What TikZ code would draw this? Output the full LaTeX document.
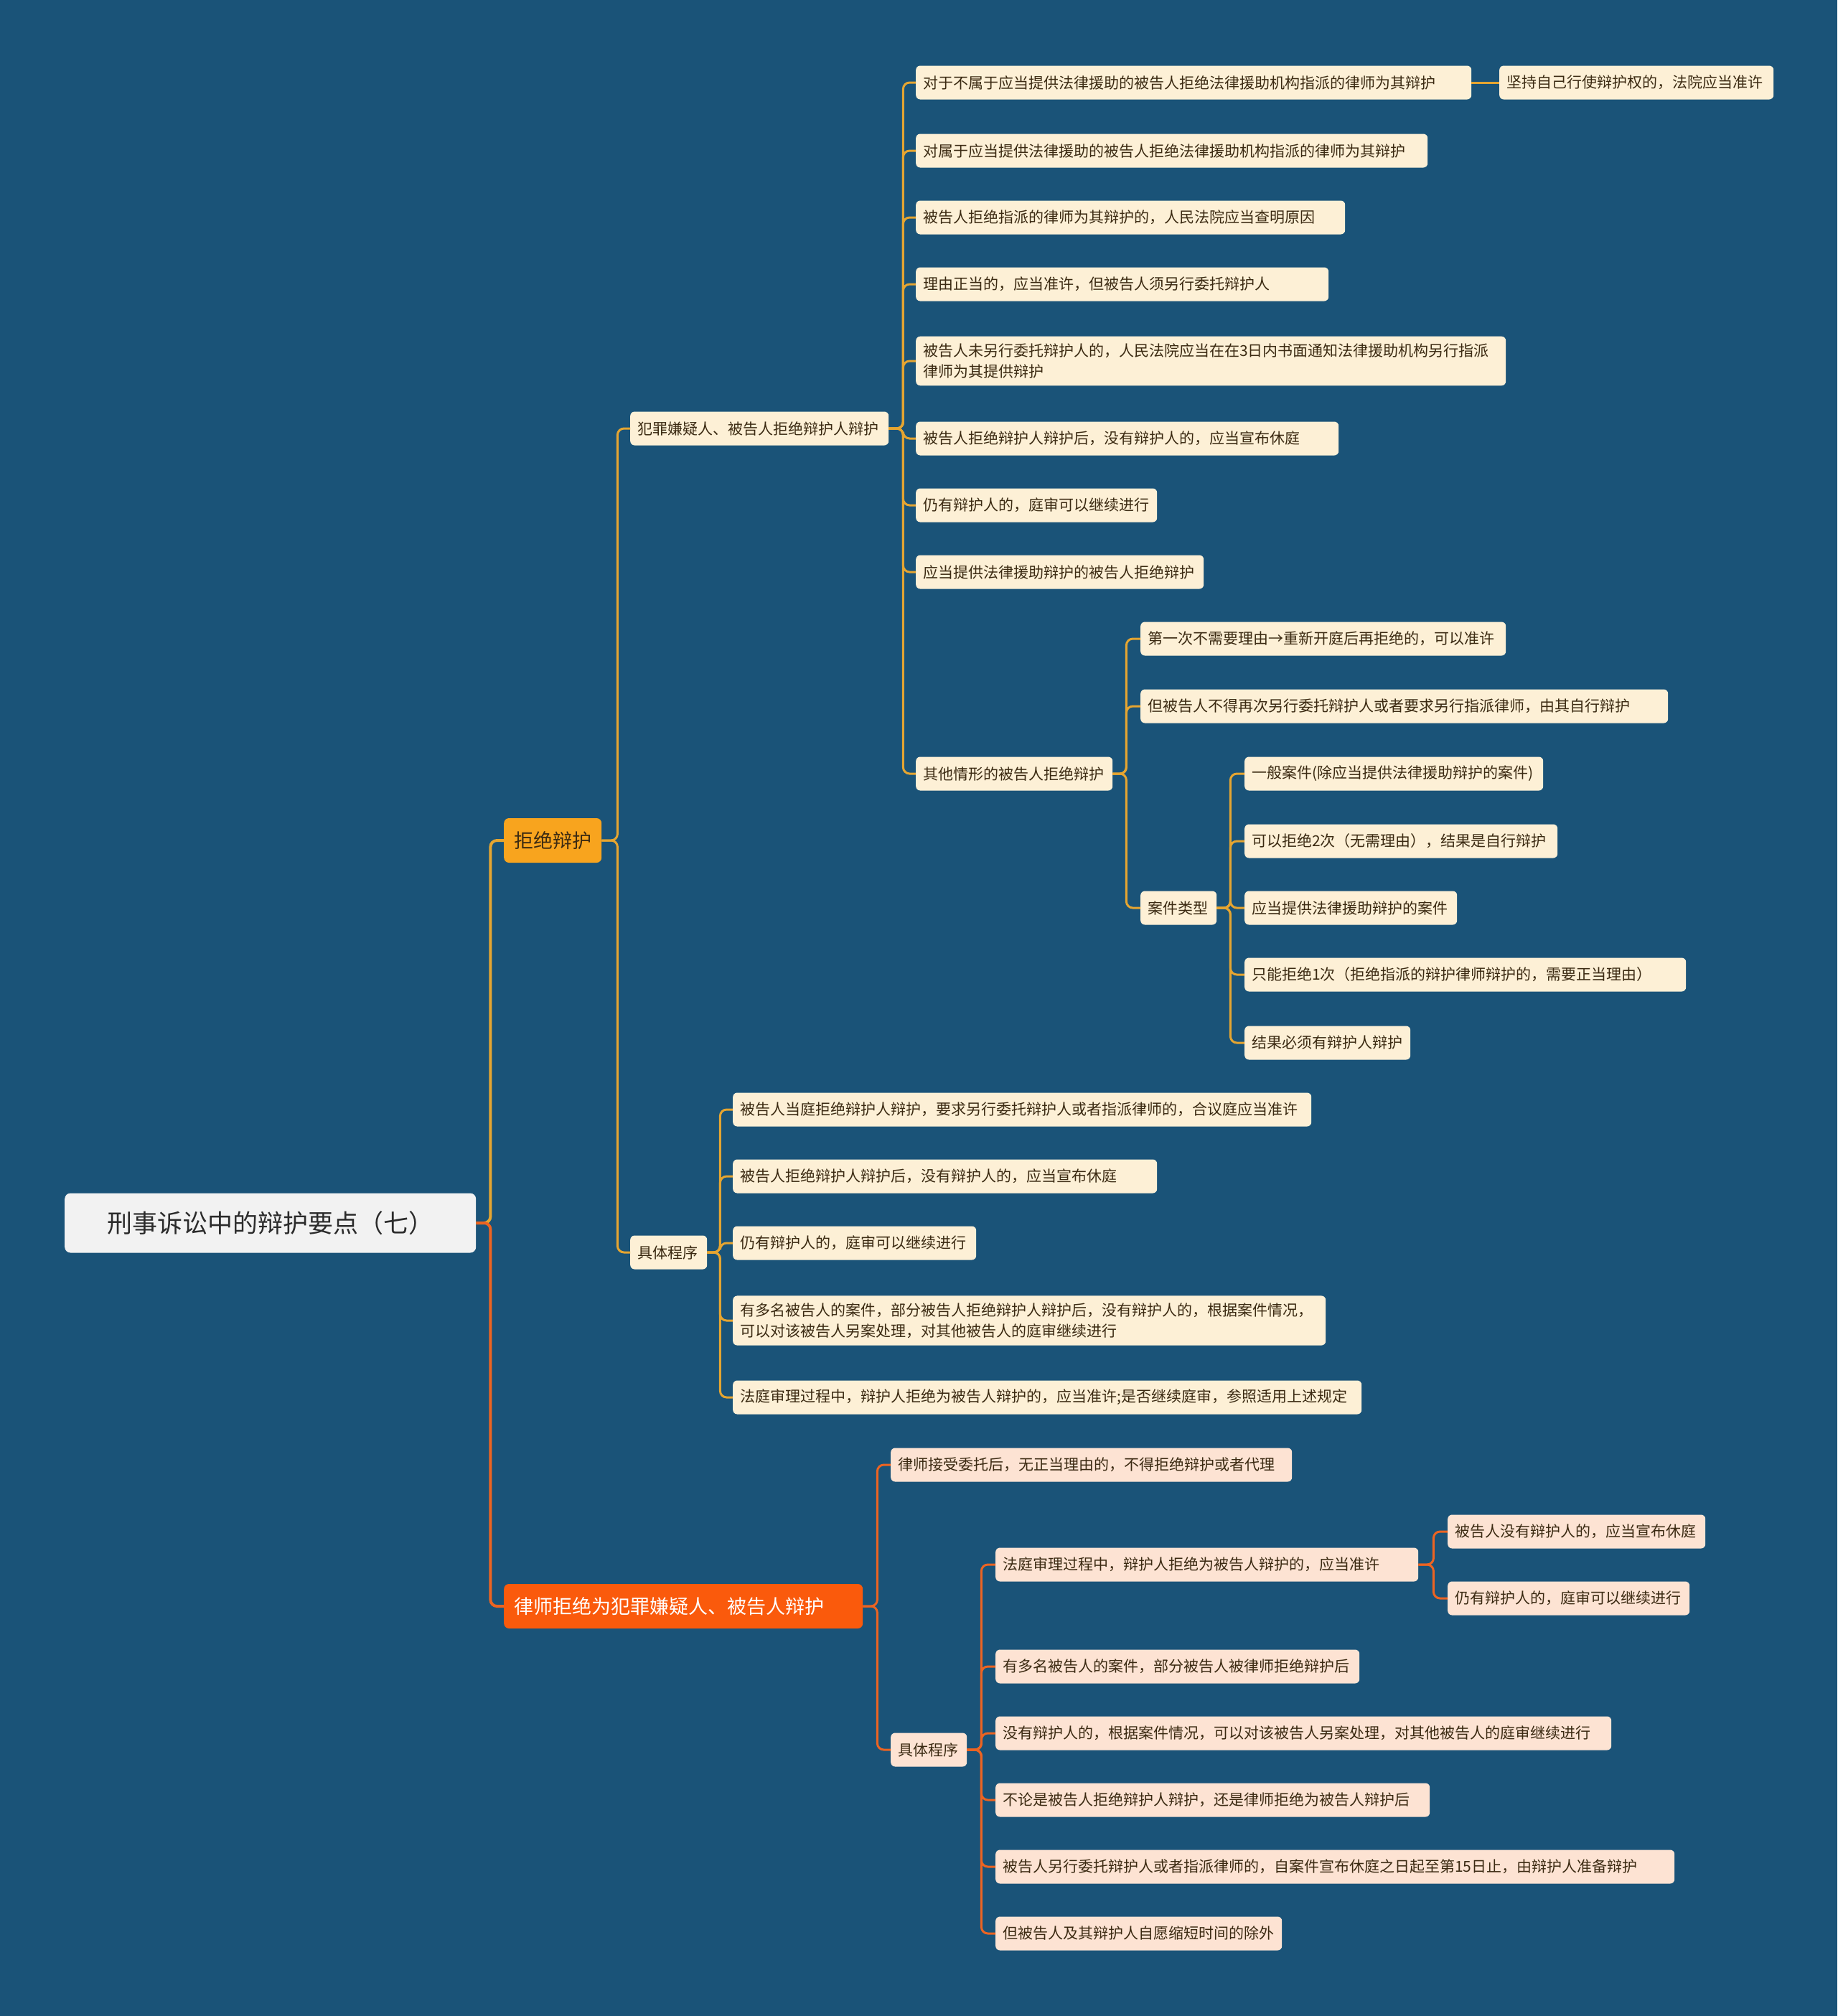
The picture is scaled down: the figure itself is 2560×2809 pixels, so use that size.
\documentclass[tikz,border=0pt]{standalone}
\usepackage{fontspec}
\setmainfont{Noto Sans CJK SC}
\usetikzlibrary{positioning}

\definecolor{bgblue}{HTML}{1A5378}
\definecolor{topicgray}{HTML}{F2F2F2}
\definecolor{topicink}{HTML}{2B2B2B}
\definecolor{amberfill}{HTML}{F8A41E}
\definecolor{orangefill}{HTML}{FA5A0C}
\definecolor{amberline}{HTML}{E5A531}
\definecolor{orangeline}{HTML}{EC6422}
\definecolor{creamleaf}{HTML}{FDF0D6}
\definecolor{peachleaf}{HTML}{FDE3D3}
\definecolor{leafink}{HTML}{3B2A12}

\newcommand\topicfont{\fontsize{35}{42}\selectfont}
\newcommand\branchfont{\fontsize{27}{32}\selectfont}
\newcommand\leaffont{\fontsize{21}{29}\selectfont}

\begin{document}
\begin{tikzpicture}[
  x=1pt, y=-1pt,
  topic/.style={fill=topicgray, text=topicink, rounded corners=8pt, font=\topicfont,
    minimum height=83pt, inner xsep=0pt, align=center, anchor=west},
  branchY/.style={fill=amberfill, text=leafink, rounded corners=7pt, font=\branchfont,
    minimum height=62pt, inner xsep=14pt, anchor=west},
  branchO/.style={branchY, fill=orangefill, text=white, align=left},
  leafY/.style={fill=creamleaf, text=leafink, rounded corners=6pt, font=\leaffont,
    minimum height=47pt, inner xsep=10pt, inner ysep=10pt, align=left, anchor=west},
  leafO/.style={leafY, fill=peachleaf},
  linkY/.style={draw=amberline, line width=3pt, rounded corners=9pt},
  linkO/.style={draw=orangeline, line width=3pt, rounded corners=9pt}
]
\useasboundingbox (0,0) rectangle (2560,2809);
\fill[bgblue] (0,0) rectangle (2560,2809);

% root and the two main branches
\node[topic, text width=573pt] (root) at (90,1704) {刑事诉讼中的辩护要点（七）};
\node[branchY] (jj) at (702,1171) {拒绝辩护};
\node[branchO, text width=472pt] (ls) at (702,2238) {律师拒绝为犯罪嫌疑人、被告人辩护};

% 拒绝辩护
\node[leafY, text width=340pt] (fz) at (878,597) {犯罪嫌疑人、被告人拒绝辩护人辩护};
\node[leafY, text width=87pt] (cx1) at (878,1745) {具体程序};

\node[leafY, text width=754pt] (a1) at (1276,115) {对于不属于应当提供法律援助的被告人拒绝法律援助机构指派的律师为其辩护};
\node[leafY, text width=362pt] (a1x) at (2089,115) {坚持自己行使辩护权的，法院应当准许};
\node[leafY, text width=693pt] (a2) at (1276,210) {对属于应当提供法律援助的被告人拒绝法律援助机构指派的律师为其辩护};
\node[leafY, text width=578pt] (a3) at (1276,303) {被告人拒绝指派的律师为其辩护的，人民法院应当查明原因};
\node[leafY, text width=555pt] (a4) at (1276,396) {理由正当的，应当准许，但被告人须另行委托辩护人};
\node[leafY, text width=802pt] (a5) at (1276,503) {被告人未另行委托辩护人的，人民法院应当在在3日内书面通知法律援助机构另行指派\\律师为其提供辩护};
\node[leafY, text width=569pt] (a6) at (1276,611) {被告人拒绝辩护人辩护后，没有辩护人的，应当宣布休庭};
\node[leafY, text width=316pt] (a7) at (1276,704) {仍有辩护人的，庭审可以继续进行};
\node[leafY, text width=381pt] (a8) at (1276,797) {应当提供法律援助辩护的被告人拒绝辩护};
\node[leafY, text width=254pt] (a9) at (1276,1078) {其他情形的被告人拒绝辩护};

\node[leafY, text width=489pt] (b1) at (1589,890) {第一次不需要理由→重新开庭后再拒绝的，可以准许};
\node[leafY, text width=715pt] (b2) at (1589,984) {但被告人不得再次另行委托辩护人或者要求另行指派律师，由其自行辩护};
\node[leafY, text width=86pt] (b3) at (1589,1265) {案件类型};

\node[leafY, text width=396pt] (c1) at (1734,1078) {一般案件(除应当提供法律援助辩护的案件)};
\node[leafY, text width=416pt] (c2) at (1734,1172) {可以拒绝2次（无需理由），结果是自行辩护};
\node[leafY, text width=276pt] (c3) at (1734,1265) {应当提供法律援助辩护的案件};
\node[leafY, text width=595pt] (c4) at (1734,1358) {只能拒绝1次（拒绝指派的辩护律师辩护的，需要正当理由）};
\node[leafY, text width=211pt] (c5) at (1734,1453) {结果必须有辩护人辩护};

\node[leafY, text width=786pt] (d1) at (1021,1546) {被告人当庭拒绝辩护人辩护，要求另行委托辩护人或者指派律师的，合议庭应当准许};
\node[leafY, text width=571pt] (d2) at (1021,1639) {被告人拒绝辩护人辩护后，没有辩护人的，应当宣布休庭};
\node[leafY, text width=319pt] (d3) at (1021,1732) {仍有辩护人的，庭审可以继续进行};
\node[leafY, text width=806pt] (d4) at (1021,1840) {有多名被告人的案件，部分被告人拒绝辩护人辩护后，没有辩护人的，根据案件情况，\\可以对该被告人另案处理，对其他被告人的庭审继续进行};
\node[leafY, text width=856pt] (d5) at (1021,1947) {法庭审理过程中，辩护人拒绝为被告人辩护的，应当准许;是否继续庭审，参照适用上述规定};

% 律师拒绝为犯罪嫌疑人、被告人辩护
\node[leafO, text width=539pt] (e1) at (1241,2041) {律师接受委托后，无正当理由的，不得拒绝辩护或者代理};
\node[leafO, text width=86pt] (cx2) at (1241,2438) {具体程序};

\node[leafO, text width=569pt] (f1) at (1387,2180) {法庭审理过程中，辩护人拒绝为被告人辩护的，应当准许};
\node[leafO, text width=339pt] (g1) at (2017,2134) {被告人没有辩护人的，应当宣布休庭};
\node[leafO, text width=317pt] (g2) at (2017,2227) {仍有辩护人的，庭审可以继续进行};
\node[leafO, text width=487pt] (f2) at (1387,2322) {有多名被告人的案件，部分被告人被律师拒绝辩护后};
\node[leafO, text width=838pt] (f3) at (1387,2415) {没有辩护人的，根据案件情况，可以对该被告人另案处理，对其他被告人的庭审继续进行};
\node[leafO, text width=585pt] (f4) at (1387,2508) {不论是被告人拒绝辩护人辩护，还是律师拒绝为被告人辩护后};
\node[leafO, text width=926pt] (f5) at (1387,2601) {被告人另行委托辩护人或者指派律师的，自案件宣布休庭之日起至第15日止，由辩护人准备辩护};
\node[leafO, text width=379pt] (f6) at (1387,2694) {但被告人及其辩护人自愿缩短时间的除外};

% connectors
\draw[linkY, line width=4pt] (root.east) -- ++(20,0) |- (jj.west);
\draw[linkO, line width=4pt] (root.east) -- ++(20,0) |- (ls.west);

\draw[linkY] (jj.east) -- ++(22,0) |- (fz.west);
\draw[linkY] (jj.east) -- ++(22,0) |- (cx1.west);

\draw[linkY] (fz.east) -- ++(20,0) |- (a1.west);
\draw[linkY] (fz.east) -- ++(20,0) |- (a2.west);
\draw[linkY] (fz.east) -- ++(20,0) |- (a3.west);
\draw[linkY] (fz.east) -- ++(20,0) |- (a4.west);
\draw[linkY] (fz.east) -- ++(20,0) |- (a5.west);
\draw[linkY] (fz.east) -- ++(20,0) |- (a6.west);
\draw[linkY] (fz.east) -- ++(20,0) |- (a7.west);
\draw[linkY] (fz.east) -- ++(20,0) |- (a8.west);
\draw[linkY] (fz.east) -- ++(20,0) |- (a9.west);
\draw[linkY] (a1.east) -- (a1x.west);

\draw[linkY] (a9.east) -- ++(19,0) |- (b1.west);
\draw[linkY] (a9.east) -- ++(19,0) |- (b2.west);
\draw[linkY] (a9.east) -- ++(19,0) |- (b3.west);

\draw[linkY] (b3.east) -- ++(19,0) |- (c1.west);
\draw[linkY] (b3.east) -- ++(19,0) |- (c2.west);
\draw[linkY] (b3.east) -- ++(19,0) |- (c3.west);
\draw[linkY] (b3.east) -- ++(19,0) |- (c4.west);
\draw[linkY] (b3.east) -- ++(19,0) |- (c5.west);

\draw[linkY] (cx1.east) -- ++(18,0) |- (d1.west);
\draw[linkY] (cx1.east) -- ++(18,0) |- (d2.west);
\draw[linkY] (cx1.east) -- ++(18,0) |- (d3.west);
\draw[linkY] (cx1.east) -- ++(18,0) |- (d4.west);
\draw[linkY] (cx1.east) -- ++(18,0) |- (d5.west);

\draw[linkO] (ls.east) -- ++(20,0) |- (e1.west);
\draw[linkO] (ls.east) -- ++(20,0) |- (cx2.west);

\draw[linkO] (cx2.east) -- ++(20,0) |- (f1.west);
\draw[linkO] (cx2.east) -- ++(20,0) |- (f2.west);
\draw[linkO] (cx2.east) -- ++(20,0) |- (f3.west);
\draw[linkO] (cx2.east) -- ++(20,0) |- (f4.west);
\draw[linkO] (cx2.east) -- ++(20,0) |- (f5.west);
\draw[linkO] (cx2.east) -- ++(20,0) |- (f6.west);

\draw[linkO] (f1.east) -- ++(21,0) |- (g1.west);
\draw[linkO] (f1.east) -- ++(21,0) |- (g2.west);
\end{tikzpicture}
\end{document}
